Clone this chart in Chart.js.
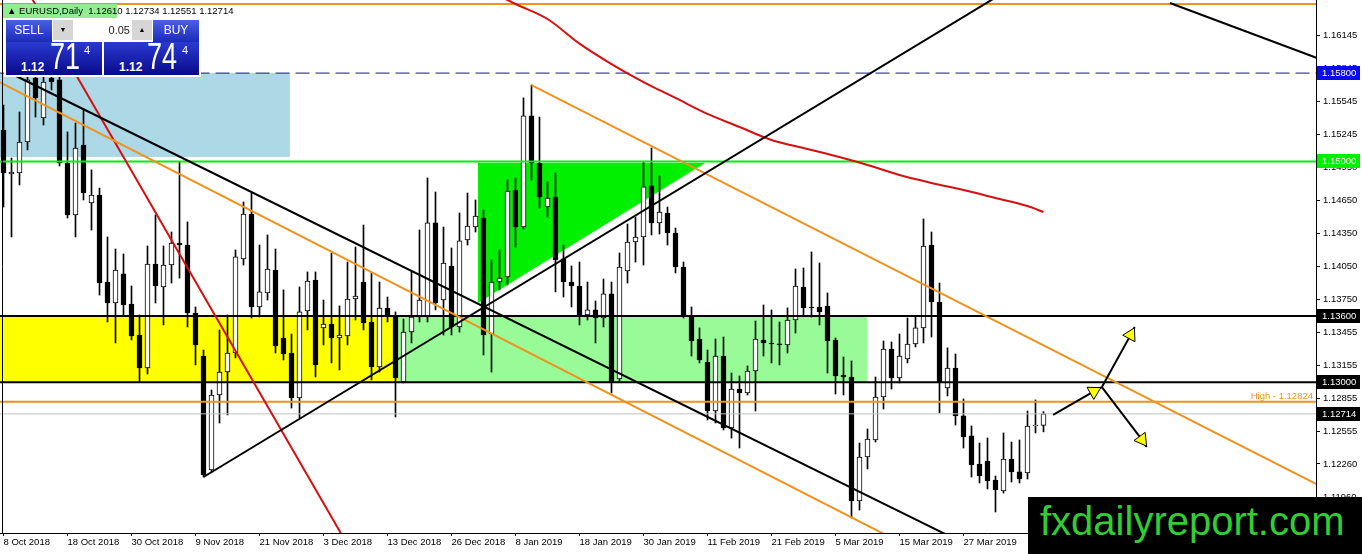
<!DOCTYPE html>
<html>
<head>
<meta charset="utf-8">
<script src="https://cdn.jsdelivr.net/npm/chart.js@4.4.1/dist/chart.umd.min.js"></script>
<style>
html,body{margin:0;padding:0;background:#fff;overflow:hidden}
#wrap{position:relative;width:1362px;height:554px;font-family:"Liberation Sans",Arial,sans-serif}
#c{position:absolute;left:0;top:0}
.abs{position:absolute;white-space:nowrap;line-height:1}
.btn{position:absolute;background:linear-gradient(#4b5fe6,#1b2bb8);color:#fff;font-size:12px;text-align:center;line-height:21px}
.big{position:absolute;background:linear-gradient(#2a3ad0,#0a0a8c)}
</style>
</head>
<body>
<div id="wrap">
<canvas id="c" width="1362" height="554"></canvas>

<div class="abs" style="left:3px;top:4px;width:114px;height:14px;background:#90ee90"></div>
<div class="abs" style="left:7px;top:6px;font-size:9.5px;color:#000">&#9650; EURUSD,Daily&nbsp; 1.12610 1.12734 1.12551 1.12714</div>

<div class="abs" style="left:4px;top:18px;width:197px;height:59px;background:#fff"></div>
<div class="btn" style="left:6px;top:20px;width:46px;height:22px">SELL</div>
<div class="abs" style="left:53px;top:20px;width:20px;height:20px;background:#d6d6d6;font-size:7px;line-height:20px;text-align:center">&#9660;</div>
<div class="abs" style="left:73px;top:20px;width:57px;height:20px;background:#fff;font-size:11px;line-height:20px;text-align:right;color:#222">0.05</div>
<div class="abs" style="left:132px;top:20px;width:20px;height:20px;background:#d6d6d6;font-size:7px;line-height:20px;text-align:center">&#9650;</div>
<div class="btn" style="left:153px;top:20px;width:46px;height:22px">BUY</div>

<div class="big" style="left:6px;top:42px;width:96px;height:33px"></div>
<div class="abs" style="left:21px;top:61px;font-size:12px;font-weight:bold;color:#fff">1.12</div>
<div class="abs" style="left:50px;top:39px;font-size:36px;color:#fff;transform:scaleX(0.75);transform-origin:left">71</div>
<div class="abs" style="left:84px;top:45px;font-size:11px;color:#fff">4</div>

<div class="big" style="left:104px;top:42px;width:95px;height:33px"></div>
<div class="abs" style="left:119px;top:61px;font-size:12px;font-weight:bold;color:#fff">1.12</div>
<div class="abs" style="left:147px;top:39px;font-size:36px;color:#fff;transform:scaleX(0.75);transform-origin:left">74</div>
<div class="abs" style="left:182px;top:45px;font-size:11px;color:#fff">4</div>

<div class="abs" style="left:1028px;top:497px;width:334px;height:57px;background:#000"></div>
<div class="abs" style="left:1040px;top:501px;font-size:40px;color:#33cc33">fxdailyreport.com</div>
</div>

<script>
// daily candles, bar 0 = 8 Oct 2018
const opens = [1.15285,1.14886,1.14895,1.15176,1.15756,1.15393,1.15756,1.15738,1.14986,1.14515,
  1.15149,1.14624,1.14696,1.13908,1.13718,1.13981,1.13709,1.13428,1.13129,1.14071,
  1.13863,1.14062,1.14261,1.14243,1.13627,1.13238,1.12206,1.12885,1.13093,1.13265,
  1.14117,1.14524,1.13682,1.13809,1.14017,1.13401,1.13265,1.12858,1.13646,1.13926,
  1.13492,1.13528,1.13401,1.13419,1.13754,1.13908,1.13546,1.13138,1.13673,1.13600,
  1.13003,1.13455,1.13591,1.13591,1.14443,1.13745,1.14053,1.13501,1.14289,1.14406,
  1.14488,1.13437,1.13908,1.13954,1.14741,1.14406,1.15412,1.14986,1.14587,1.14678,
  1.14117,1.13908,1.13872,1.13609,1.13655,1.13582,1.13800,1.13030,1.14008,1.14270,
  1.14316,1.14778,1.14443,1.14533,1.14352,1.14044,1.13600,1.13392,1.13184,1.12740,
  1.13238,1.12586,1.12939,1.12903,1.13102,1.13383,1.13356,1.13347,1.13338,1.13564,
  1.13863,1.13682,1.13682,1.13691,1.13383,1.13066,1.13048,1.11925,1.12323,1.12477,
  1.12867,1.13301,1.13039,1.13211,1.13347,1.13492,1.14243,1.13727,1.12948,1.13129,
  1.12695,1.12514,1.12260,1.12287,1.12115,1.12016,1.12305,1.12188,1.12179,1.12604,
  1.12610];
const highs = [1.15511,1.15031,1.15448,1.15828,1.15846,1.15810,1.15846,1.15783,1.15267,1.15348,
  1.15466,1.14923,1.14759,1.14316,1.14207,1.14162,1.13872,1.13609,1.14234,1.14515,
  1.14234,1.14361,1.14995,1.14452,1.13682,1.13292,1.12930,1.13474,1.13609,1.14198,
  1.14633,1.14714,1.14243,1.14334,1.14207,1.13836,1.13437,1.13863,1.13999,1.13999,
  1.13745,1.14171,1.13691,1.14089,1.14225,1.14424,1.13990,1.13908,1.13772,1.13637,
  1.13573,1.13999,1.14379,1.14850,1.14723,1.14406,1.14216,1.14533,1.14714,1.14651,
  1.14560,1.14107,1.14198,1.14832,1.14850,1.15575,1.15692,1.15402,1.14814,1.14895,
  1.14243,1.14053,1.14089,1.13908,1.13736,1.13935,1.13908,1.14171,1.14433,1.14497,
  1.14995,1.15122,1.14868,1.14587,1.14397,1.14089,1.13682,1.13492,1.13292,1.13392,
  1.13410,1.13084,1.13057,1.13148,1.13555,1.13700,1.13655,1.13546,1.13673,1.14026,
  1.14035,1.14180,1.14080,1.13809,1.13401,1.13229,1.13193,1.12450,1.12577,1.13048,
  1.13374,1.13365,1.13437,1.13582,1.13600,1.14479,1.14361,1.13899,1.13311,1.13256,
  1.12849,1.12604,1.12450,1.12495,1.12151,1.12541,1.12459,1.12477,1.12740,1.12840,
  1.12734];
const lows = [1.14587,1.14316,1.14787,1.15104,1.15402,1.15330,1.15647,1.14959,1.14488,1.14316,
  1.14651,1.14379,1.13790,1.13546,1.13356,1.13609,1.13383,1.13003,1.13075,1.13718,
  1.13519,1.13899,1.13944,1.13501,1.13157,1.12142,1.12188,1.12631,1.12704,1.13220,
  1.14062,1.13582,1.13591,1.13745,1.13265,1.13202,1.12767,1.12677,1.13474,1.13048,
  1.13338,1.13175,1.13111,1.13338,1.13564,1.13474,1.13021,1.13093,1.13546,1.12686,
  1.12994,1.13356,1.13546,1.13546,1.13655,1.13428,1.13428,1.13455,1.14243,1.14361,
  1.13247,1.13093,1.13836,1.13881,1.14225,1.14388,1.14832,1.14578,1.14497,1.13818,
  1.13772,1.13682,1.13519,1.13564,1.13356,1.13501,1.12903,1.13003,1.13899,1.14089,
  1.14062,1.14334,1.14343,1.14243,1.13990,1.13582,1.13238,1.13175,1.12658,1.12631,
  1.12568,1.12495,1.12405,1.12885,1.12740,1.13238,1.13175,1.13157,1.13265,1.13446,
  1.13600,1.13591,1.13519,1.13084,1.12894,1.12885,1.11771,1.11843,1.12215,1.12459,
  1.12758,1.12939,1.12994,1.13175,1.13320,1.13356,1.13410,1.12722,1.12876,1.12613,
  1.12405,1.12142,1.12088,1.12034,1.11825,1.11997,1.12097,1.12088,1.12124,1.12541,
  1.12551];
const closes = [1.14895,1.14904,1.15176,1.15738,1.15575,1.15719,1.15719,1.14986,1.14515,1.15122,
  1.14714,1.14696,1.13899,1.13718,1.14017,1.13700,1.13419,1.13129,1.14071,1.13872,
  1.14062,1.14261,1.14243,1.13627,1.13338,1.12160,1.12885,1.13093,1.13265,1.14135,
  1.14524,1.13682,1.13818,1.14026,1.13329,1.13256,1.12858,1.13637,1.13917,1.13157,
  1.13528,1.13401,1.13428,1.13754,1.13781,1.13537,1.13138,1.13673,1.13591,1.13039,
  1.13455,1.13591,1.13745,1.14443,1.13718,1.14080,1.13501,1.14280,1.14415,1.14506,
  1.13428,1.13908,1.13944,1.14732,1.14406,1.15412,1.14986,1.14678,1.14669,1.14107,
  1.13908,1.13872,1.13609,1.13655,1.13582,1.13800,1.13003,1.14044,1.14270,1.14316,
  1.14769,1.14443,1.14542,1.14352,1.14044,1.13600,1.13374,1.13202,1.12740,1.13238,
  1.12586,1.12939,1.12903,1.13102,1.13392,1.13356,1.13347,1.13338,1.13564,1.13872,
  1.13673,1.13673,1.13637,1.13374,1.13057,1.13048,1.11925,1.12323,1.12486,1.12867,
  1.13301,1.13039,1.13238,1.13347,1.13492,1.14234,1.13727,1.13003,1.13129,1.12695,
  1.12505,1.12251,1.12151,1.12106,1.12025,1.12305,1.12188,1.12124,1.12604,1.12613,
  1.12714];

const dateIdx = [0,8,16,24,32,40,48,56,64,72,80,88,96,104,112,120];
const dateLabels = ['8 Oct 2018','18 Oct 2018','30 Oct 2018','9 Nov 2018','21 Nov 2018','3 Dec 2018',
  '13 Dec 2018','26 Dec 2018','8 Jan 2019','18 Jan 2019','30 Jan 2019','11 Feb 2019',
  '21 Feb 2019','5 Mar 2019','15 Mar 2019','27 Mar 2019'];
const priceTicks = [1.16145,1.15845,1.15545,1.15245,1.14950,1.14650,1.14350,1.14050,
  1.13750,1.13455,1.13155,1.12855,1.12555,1.12260,1.11960];

// moving average read at a few bars
const maIdx = [60,64,68,72,76,80,84,88,92,96,100,104,108,112,116,120,124,128,130];
const maVals = [1.16570,1.16426,1.16290,1.16067,1.15882,1.15719,1.15575,1.15430,1.15312,1.15194,
  1.15122,1.15049,1.14968,1.14877,1.14805,1.14741,1.14669,1.14596,1.14542];

// horizontal levels
const topLevel = 1.16426;
const blueLevel = 1.15800;
const greenLevel = 1.15000;
const blackLevels = [1.13600, 1.13000];
const highLevel = 1.12824;
const bidLevel = 1.12714;
const tagPrices = [1.15800, 1.15000, 1.13600, 1.13000, 1.12714];

// drawn objects: [barIndex, price] pairs
const blackDown = [[0.81,1.15801],[117.7,1.11626]];
const blackUp = [[25,1.12142],[123.9,1.16480]];
const blackTopRight = [[145.8,1.16435],[164.6,1.15925]];
const orangeLow = [[-1.06,1.15738],[110.3,1.11617]];
const orangeHigh = [[66,1.15692],[164.6,1.12061]];
const redSteep = [[3.3,1.16507],[42.3,1.11617]];
const blueZone = [[-1,35.8],[1.15800,1.15040]];
const yellowZone = [[-1,49.2],[1.13600,1.13000]];
const greenZone = [[49.2,108],[1.13600,1.13000]];
const triangle = [[59.3,1.13718],[87.7,1.14986]];
const triangleTop = 1.14986;
const arrow1 = [[131.2,1.12704],[136.3,1.12917],[137.3,1.12957]];
const arrow2 = [[137.3,1.12957],[140.9,1.13429],[141.4,1.13501]];
const arrow3 = [[137.3,1.12957],[142.3,1.12480],[142.9,1.12414]];

const ORANGE = '#f0921e';
const RED = '#d41010';

function seg(points, color, width, order, extra) {
  return Object.assign({
    type: 'line',
    data: points.map(p => ({x: p[0], y: p[1]})),
    borderColor: color, borderWidth: width,
    pointRadius: 0, fill: false, tension: 0, order: order, clip: 0
  }, extra || {});
}
function level(price, color, width, order, extra) {
  return seg([[-1, price], [166, price]], color, width, order, extra);
}
function zone(z, color, order) {
  return {
    type: 'line',
    data: [{x: z[0][0], y: z[1][0]}, {x: z[0][1], y: z[1][0]}],
    borderWidth: 0, borderColor: 'transparent', pointRadius: 0,
    fill: {value: z[1][1]}, backgroundColor: color, order: order, clip: 0
  };
}
function arrow(points, rot) {
  return seg(points, '#000', 2, 0, {
    pointRadius: [0, 8, 0], pointStyle: 'triangle', pointRotation: rot,
    pointBackgroundColor: '#ffff00', pointBorderColor: '#000', pointBorderWidth: 1
  });
}

const idx = opens.map((_, i) => i);
const wickData = idx.map(i => ({x: i, y: [lows[i], highs[i]]}));
const bodyData = idx.map(i => ({x: i, y: [Math.min(opens[i], closes[i]), Math.max(opens[i], closes[i])]}));
const bodyColors = idx.map(i => closes[i] >= opens[i] ? '#ffffff' : '#000000');

const datasets = [
  zone(blueZone, '#add8e6', 9),
  zone(yellowZone, '#ffff00', 9),
  zone(greenZone, '#98fb98', 9),
  {type: 'line', data: triangle.map(p => ({x: p[0], y: p[1]})), borderWidth: 0, borderColor: 'transparent',
   pointRadius: 0, fill: {value: triangleTop}, backgroundColor: '#00f000', order: 8, clip: 0},
  {type: 'bar', data: wickData, backgroundColor: '#000', grouped: false, barThickness: 1, maxBarThickness: 1,
   minBarLength: 1, order: 6},
  {type: 'bar', data: bodyData, backgroundColor: bodyColors, borderColor: '#000', borderWidth: 1,
   borderSkipped: false, grouped: false, barThickness: 5, maxBarThickness: 5, minBarLength: 1, order: 5},
  level(topLevel, ORANGE, 2, 3),
  level(blueLevel, '#14148c', 1, 3, {borderDash: [14, 6]}),
  level(greenLevel, '#00ee00', 2, 3),
  level(blackLevels[0], '#000', 2, 3),
  level(blackLevels[1], '#000', 2, 3),
  level(highLevel, ORANGE, 2, 3),
  level(bidLevel, '#c0c0c0', 1, 4),
  seg(blackDown, '#000', 2, 1),
  seg(blackUp, '#000', 2, 1),
  seg(blackTopRight, '#000', 2, 1),
  seg(orangeLow, ORANGE, 2, 1),
  seg(orangeHigh, ORANGE, 2, 1),
  seg(redSteep, RED, 2, 1),
  {type: 'line', data: maIdx.map((v, k) => ({x: v, y: maVals[k]})), borderColor: RED, borderWidth: 2,
   pointRadius: 0, fill: false, cubicInterpolationMode: 'monotone', order: 1, clip: 0},
  arrow(arrow1, 61),
  arrow(arrow2, 28),
  arrow(arrow3, 144)
];

const overlay = {
  id: 'overlay',
  afterDraw(chart) {
    const {ctx, chartArea: a, scales: {y}} = chart;
    ctx.save();
    ctx.strokeStyle = '#000';
    ctx.lineWidth = 1;
    ctx.beginPath();
    ctx.moveTo(a.left + 2.5, a.top);
    ctx.lineTo(a.left + 2.5, a.bottom);
    ctx.stroke();
    ctx.font = '9.5px "Liberation Sans", Arial, sans-serif';
    ctx.fillStyle = ORANGE;
    ctx.textAlign = 'right';
    ctx.textBaseline = 'bottom';
    ctx.fillText('High - ' + highLevel.toFixed(5), a.right - 3, y.getPixelForValue(highLevel) - 1);
    const tagColors = ['#0a0aee', '#00ee00', '#000', '#000', '#000'];
    ctx.textAlign = 'left';
    ctx.textBaseline = 'middle';
    tagPrices.forEach((p, k) => {
      const py = Math.round(y.getPixelForValue(p));
      ctx.fillStyle = tagColors[k];
      ctx.fillRect(a.right + 1, py - 7, 43, 14);
      ctx.fillStyle = '#fff';
      ctx.fillText(p.toFixed(5), a.right + 6, py + 0.5);
    });
    ctx.restore();
  }
};

Chart.defaults.font.family = '"Liberation Sans", Arial, sans-serif';
Chart.defaults.font.size = 9.5;
Chart.defaults.color = '#000';

function noPad(axis) {
  axis.paddingTop = 0;
  axis.paddingBottom = 0;
  axis.paddingLeft = 0;
  axis.paddingRight = 0;
}

new Chart(document.getElementById('c').getContext('2d'), {
  type: 'line',
  data: {datasets: datasets},
  options: {
    responsive: false,
    animation: false,
    devicePixelRatio: 1,
    layout: {padding: 0},
    plugins: {legend: {display: false}, tooltip: {enabled: false}},
    scales: {
      x: {
        type: 'linear', position: 'bottom', min: -0.4375, max: 164.0625, offset: false, bounds: 'data',
        grid: {drawOnChartArea: false, drawTicks: true, tickLength: 3, color: '#000', offset: false},
        border: {display: true, color: '#000', width: 1},
        ticks: {autoSkip: false, maxRotation: 0, align: 'start', padding: 1,
          callback: (v, i) => dateLabels[i]},
        afterBuildTicks: axis => { axis.ticks = dateIdx.map(v => ({value: v})); },
        afterFit: axis => { axis.height = 21; noPad(axis); }
      },
      y: {
        type: 'linear', position: 'right', min: 1.11635, max: 1.16462, bounds: 'data',
        grid: {drawOnChartArea: false, drawTicks: true, tickLength: 4, color: '#000'},
        border: {display: true, color: '#000', width: 1},
        ticks: {autoSkip: false, padding: 3, callback: v => v.toFixed(5)},
        afterBuildTicks: axis => { axis.ticks = priceTicks.map(v => ({value: v})); },
        afterFit: axis => { axis.width = 46; noPad(axis); }
      }
    }
  },
  plugins: [overlay]
});
</script>
</body>
</html>
